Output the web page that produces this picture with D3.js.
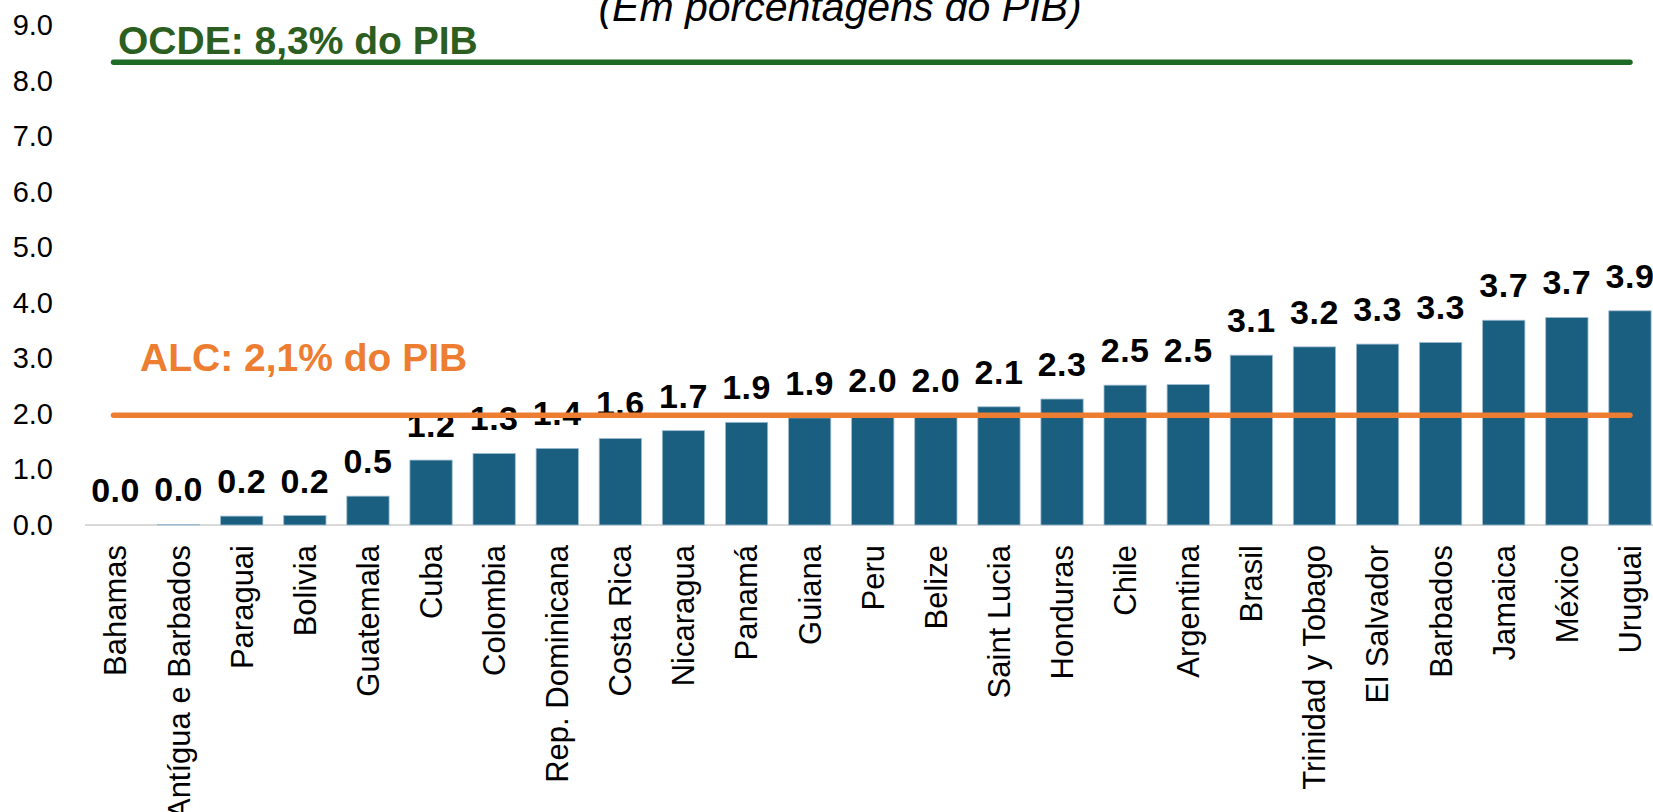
<!DOCTYPE html>
<html>
<head>
<meta charset="utf-8">
<script src="https://cdn.jsdelivr.net/npm/d3@7"></script>
<style>
  body { margin: 0; background: #fff; }
  text { font-family: "Liberation Sans", Arial, sans-serif; }
</style>
</head>
<body>
<svg id="chart"></svg>
<script>
const countries = ["Bahamas", "Antígua e Barbados", "Paraguai", "Bolivia", "Guatemala", "Cuba",
  "Colombia", "Rep. Dominicana", "Costa Rica", "Nicaragua", "Panamá", "Guiana", "Peru", "Belize",
  "Saint Lucia", "Honduras", "Chile", "Argentina", "Brasil", "Trinidad y Tobago", "El Salvador",
  "Barbados", "Jamaica", "México", "Uruguai"];
const values = [0.0, 0.01, 0.16, 0.17, 0.52, 1.17, 1.29, 1.38, 1.56, 1.7, 1.85, 1.93, 1.98, 1.98,
  2.13, 2.27, 2.52, 2.53, 3.06, 3.21, 3.26, 3.29, 3.69, 3.74, 3.86];
const yTicks = [0, 1, 2, 3, 4, 5, 6, 7, 8, 9];

// reference lines (value where drawn, label)
const refValues = [8.34, 1.98];
const refLabels = ["OCDE: 8,3% do PIB", "ALC: 2,1% do PIB"];
const refColors = ["#1e6b26", "#ed7d31"];
const refTextColors = ["#2b5e20", "#ed7d31"];
const refLabelX = [118, 140];
const refLabelDy = [-8, -44];

const title = "(Em porcentagens do PIB)";

const W = 1653, H = 812;
const svg = d3.select("#chart").attr("width", W).attr("height", H);

const xScale = d3.scaleBand()
  .domain(countries)
  .range([84, 1661.5])
  .paddingInner(0.33)
  .paddingOuter(0.165);

const yScale = d3.scaleLinear()
  .domain([0, 9])
  .range([525, 25.6]);

// title, clipped at top
svg.append("text")
  .attr("x", 840)
  .attr("y", 21)
  .attr("text-anchor", "middle")
  .style("font-size", "41px")
  .style("font-style", "italic")
  .text(title);

// y axis
const yAxis = svg.append("g")
  .attr("transform", "translate(53,0)")
  .call(d3.axisLeft(yScale).tickValues(yTicks).tickFormat(d3.format(".1f")).tickSize(0).tickPadding(0));
yAxis.select(".domain").remove();
yAxis.selectAll("text")
  .style("font-family", "'Liberation Sans', Arial, sans-serif")
  .style("font-size", "29px")
  .attr("fill", "#000");

// baseline
svg.append("line")
  .attr("x1", 85)
  .attr("x2", W)
  .attr("y1", yScale(0))
  .attr("y2", yScale(0))
  .attr("stroke", "#d9d9d9")
  .attr("stroke-width", 2);

// bars
svg.selectAll(".bar")
  .data(values)
  .enter()
  .append("rect")
  .attr("class", "bar")
  .attr("x", (d, i) => xScale(countries[i]))
  .attr("y", d => yScale(d))
  .attr("width", xScale.bandwidth())
  .attr("height", d => yScale(0) - yScale(d))
  .attr("fill", "#1a5e80")
  .attr("stroke", "#9dbbd0")
  .attr("stroke-width", 0.8);

// value labels
svg.selectAll(".val")
  .data(values)
  .enter()
  .append("text")
  .attr("class", "val")
  .attr("x", (d, i) => xScale(countries[i]) + xScale.bandwidth() / 2)
  .attr("y", d => yScale(d) - 23)
  .attr("text-anchor", "middle")
  .style("font-size", "34px")
  .style("font-weight", "bold")
  .style("letter-spacing", "0.5px")
  .text(d => d.toFixed(1));

// reference lines from first to last category centre
const xFirst = xScale(countries[0]) + xScale.bandwidth() / 2;
const xLast = xScale(countries[countries.length - 1]) + xScale.bandwidth() / 2;

svg.selectAll(".ref")
  .data(refValues)
  .enter()
  .append("line")
  .attr("class", "ref")
  .attr("x1", xFirst - 2)
  .attr("x2", xLast)
  .attr("y1", d => yScale(d))
  .attr("y2", d => yScale(d))
  .attr("stroke", (d, i) => refColors[i])
  .attr("stroke-width", 5.5)
  .attr("stroke-linecap", "round");

svg.selectAll(".reflabel")
  .data(refValues)
  .enter()
  .append("text")
  .attr("class", "reflabel")
  .attr("x", (d, i) => refLabelX[i])
  .attr("y", (d, i) => yScale(d) + refLabelDy[i])
  .style("font-size", "39px")
  .style("font-weight", "bold")
  .attr("fill", (d, i) => refTextColors[i])
  .text((d, i) => refLabels[i]);

// category labels
svg.selectAll(".cat")
  .data(countries)
  .enter()
  .append("text")
  .attr("class", "cat")
  .attr("transform", d => `translate(${xScale(d) + xScale.bandwidth() / 2}, 545) rotate(-90)`)
  .attr("dy", "0.35em")
  .attr("text-anchor", "end")
  .style("font-size", "31px")
  .text(d => d);
</script>
</body>
</html>
